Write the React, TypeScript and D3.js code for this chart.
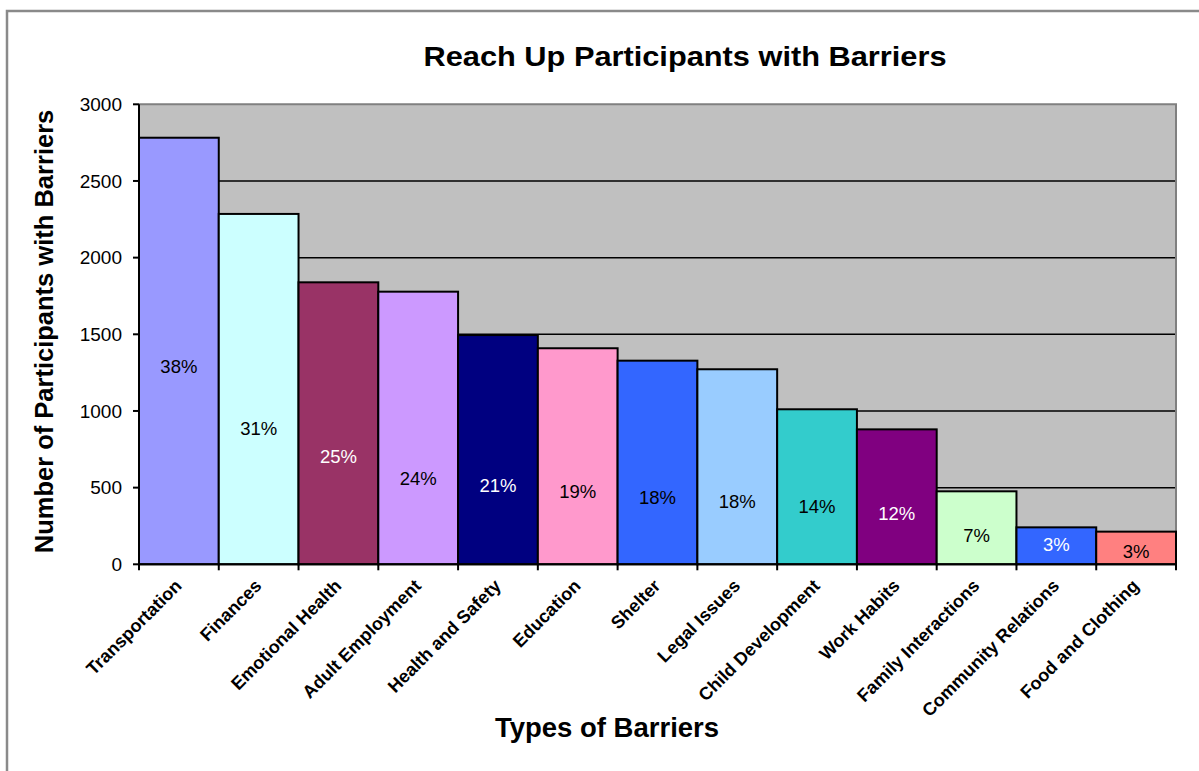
import React from "react";
import * as d3 from "d3";

const categories = [
  "Transportation", "Finances", "Emotional Health", "Adult Employment",
  "Health and Safety", "Education", "Shelter", "Legal Issues",
  "Child Development", "Work Habits", "Family Interactions",
  "Community Relations", "Food and Clothing",
];
const participants = [2782, 2285, 1839, 1778, 1495, 1409, 1328, 1272, 1011, 880, 476, 241, 213];
const percentLabels = ["38%", "31%", "25%", "24%", "21%", "19%", "18%", "18%", "14%", "12%", "7%", "3%", "3%"];
// height (in participants units) at which each percent label sits
const labelAt = [1293, 887, 702, 561, 517, 474, 437, 408, 376, 333, 185, 132, 82];
const yTicks = [0, 500, 1000, 1500, 2000, 2500, 3000];

const barColors = ["#9999FF", "#CCFFFF", "#993366", "#CC99FF", "#000080", "#FF99CC", "#3366FF", "#99CCFF", "#33CCCC", "#800080", "#CCFFCC", "#3366FF", "#FF8080"];
const labelColors = ["#000", "#000", "#fff", "#000", "#fff", "#000", "#000", "#000", "#000", "#fff", "#000", "#fff", "#000"];

const W = 1199, H = 771;
const left = 139, right = 1176, top = 104.3, bottom = 564.3;
const font = "Arial, 'Liberation Sans', sans-serif";

export default function App() {
  const x = d3.scaleBand().domain(categories).range([left, right]).padding(0);
  const y = d3.scaleLinear().domain([0, 3000]).range([bottom, top]);
  const bw = x.bandwidth();
  return (
    <svg width={W} height={H} style={{ position: "absolute", left: 0, top: 0 }} fontFamily={font}>
      <rect x={0} y={0} width={W} height={H} fill="#fff" />
      {/* outer frame */}
      <path d={`M7,${H + 5} L7,11 L${W + 5},11`} fill="none" stroke="#8a8a8a" strokeWidth={2.5} />
      <text x={685} y={66} textAnchor="middle" fontWeight="bold" fontSize={28}
        textLength={523} lengthAdjust="spacingAndGlyphs">Reach Up Participants with Barriers</text>
      {/* plot area */}
      <rect x={left} y={top} width={right - left} height={bottom - top} fill="#C0C0C0" />
      {yTicks.filter(t => t > 0 && t < 3000).map(t => (
        <line key={t} x1={left} x2={right} y1={y(t)} y2={y(t)} stroke="#000" strokeWidth={1.5} />
      ))}
      <path d={`M${left},${top} L${right},${top} L${right},${bottom}`} fill="none" stroke="#808080" strokeWidth={2} />
      {categories.map((c, i) => (
        <rect key={c} x={x(c)} y={y(participants[i])} width={bw} height={bottom - y(participants[i])}
          fill={barColors[i]} stroke="#000" strokeWidth={2} />
      ))}
      {categories.map((c, i) => (
        <text key={c} x={(x(c) as number) + bw / 2} y={y(labelAt[i])} dy="0.35em" textAnchor="middle"
          fontSize={18.5} fill={labelColors[i]}>{percentLabels[i]}</text>
      ))}
      {/* axes */}
      <line x1={left} x2={left} y1={top} y2={bottom} stroke="#000" strokeWidth={2} />
      <line x1={left} x2={right} y1={bottom} y2={bottom} stroke="#000" strokeWidth={2} />
      {yTicks.map(t => (
        <g key={t}>
          <line x1={left - 6} x2={left} y1={y(t)} y2={y(t)} stroke="#000" strokeWidth={2} />
          <text x={122} y={y(t)} dy="0.35em" textAnchor="end" fontSize={19}>{t}</text>
        </g>
      ))}
      {d3.range(categories.length + 1).map(i => {
        const xx = left + i * bw;
        return <line key={i} x1={xx} x2={xx} y1={bottom} y2={bottom + 6} stroke="#000" strokeWidth={2} />;
      })}
      {categories.map(c => {
        const cx = (x(c) as number) + bw / 2 + 4;
        return (
          <text key={c} transform={`translate(${cx},587) rotate(-45)`} textAnchor="end"
            fontSize={18} fontWeight="bold">{c}</text>
        );
      })}
      <text transform={`translate(53,331.5) rotate(-90)`} textAnchor="middle" fontWeight="bold" fontSize={25.5}>Number of Participants with Barriers</text>
      <text x={607} y={736.7} textAnchor="middle" fontWeight="bold" fontSize={27.5}>Types of Barriers</text>
    </svg>
  );
}
